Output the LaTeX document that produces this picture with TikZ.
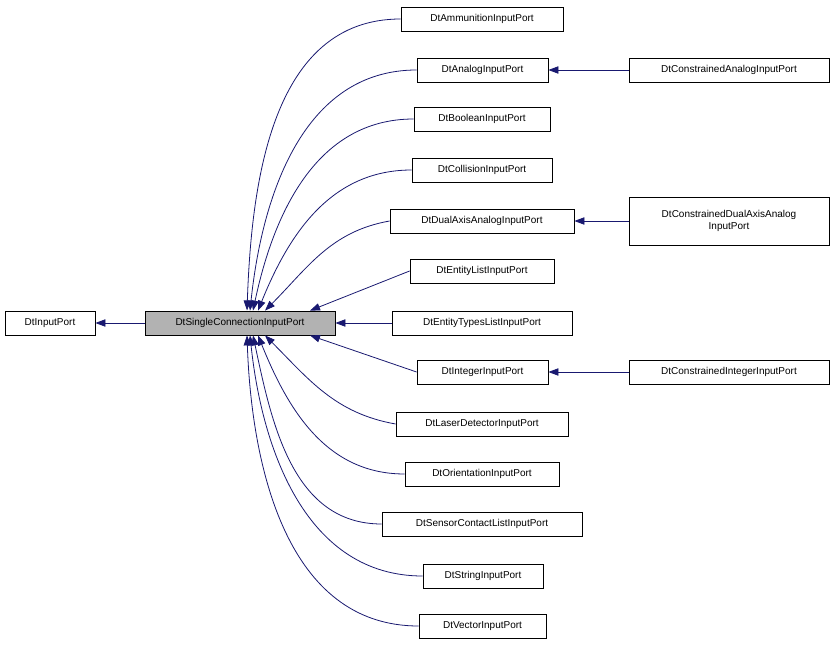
\documentclass[tikz,border=0pt]{standalone}
\usepackage{fontspec}
\setmainfont{Liberation Sans}
\usetikzlibrary{arrows.meta}
\definecolor{edgecolor}{rgb}{0.098, 0.098, 0.439}
\tikzset{
  cls/.style={draw=black, fill=white, line width=0.6pt, inner sep=0pt, minimum height=18pt,
    font=\fontsize{7.5}{9}\selectfont, align=center},
  edge/.style={draw=edgecolor, line width=0.6pt, -{Triangle[length=7.5pt,width=5.5pt]}}
}
\begin{document}
\begin{tikzpicture}[x=0.75pt,y=-0.75pt]
\useasboundingbox (0,0) rectangle (835,645);
% base classes
\node[cls, minimum width=67.5pt] (input) at (50,323) {DtInputPort};
\node[cls, fill=gray!60, minimum width=142.5pt] (single) at (240,323) {DtSingleConnectionInputPort};
% derived classes
\node[cls, minimum width=121.5pt] (ammo) at (482,19) {DtAmmunitionInputPort};
\node[cls, minimum width=98.25pt] (analog) at (482.5,70) {DtAnalogInputPort};
\node[cls, minimum width=102pt] (bool) at (482,119) {DtBooleanInputPort};
\node[cls, minimum width=105pt] (coll) at (482,170) {DtCollisionInputPort};
\node[cls, minimum width=138pt] (dual) at (482,221) {DtDualAxisAnalogInputPort};
\node[cls, minimum width=108pt] (elist) at (482,271) {DtEntityListInputPort};
\node[cls, minimum width=135pt] (etypes) at (482,323) {DtEntityTypesListInputPort};
\node[cls, minimum width=98.25pt] (int) at (482.5,372) {DtIntegerInputPort};
\node[cls, minimum width=129pt] (laser) at (482,424) {DtLaserDetectorInputPort};
\node[cls, minimum width=115.5pt] (orient) at (482,474) {DtOrientationInputPort};
\node[cls, minimum width=150pt] (sensor) at (482,524) {DtSensorContactListInputPort};
\node[cls, minimum width=90pt] (string) at (483,576) {DtStringInputPort};
\node[cls, minimum width=95.25pt] (vector) at (482.5,626) {DtVectorInputPort};
% constrained classes
\node[cls, minimum width=150pt] (canalog) at (729,70) {DtConstrainedAnalogInputPort};
\node[cls, minimum width=150pt, minimum height=36pt] (cdual) at (729,221) {DtConstrainedDualAxisAnalog\\InputPort};
\node[cls, minimum width=150pt] (cint) at (729,372) {DtConstrainedIntegerInputPort};
% inheritance
\draw[edge] (single) -- (input);
\draw[edge] (ammo.west) to[out=180,in=88] ([xshift=5.25pt,yshift=0.1pt]single.north);
\draw[edge] (analog.west) to[out=180,in=84] ([xshift=7.5pt]single.north);
\draw[edge] (bool.west) to[out=180,in=78] ([xshift=9.75pt]single.north);
\draw[edge] (coll.west) to[out=180,in=68] ([xshift=13.5pt]single.north);
\draw[edge] (dual.west) to[out=190,in=45] ([xshift=18.75pt]single.north);
\draw[edge] (elist.west) -- ([xshift=52.5pt]single.north);
\draw[edge] (etypes) -- (single);
\draw[edge] (int.west) -- ([xshift=52.5pt]single.south);
\draw[edge] (laser.west) to[out=170,in=-45] ([xshift=18.75pt]single.south);
\draw[edge] (orient.west) to[out=180,in=-68] ([xshift=13.5pt]single.south);
\draw[edge] (sensor.west) to[out=180,in=-78] ([xshift=9.75pt]single.south);
\draw[edge] (string.west) to[out=180,in=-84] ([xshift=7.5pt]single.south);
\draw[edge] (vector.west) to[out=180,in=-88] ([xshift=5.25pt]single.south);
\draw[edge] (canalog) -- (analog);
\draw[edge] (cdual) -- (dual);
\draw[edge] (cint) -- (int);
\end{tikzpicture}
\end{document}
